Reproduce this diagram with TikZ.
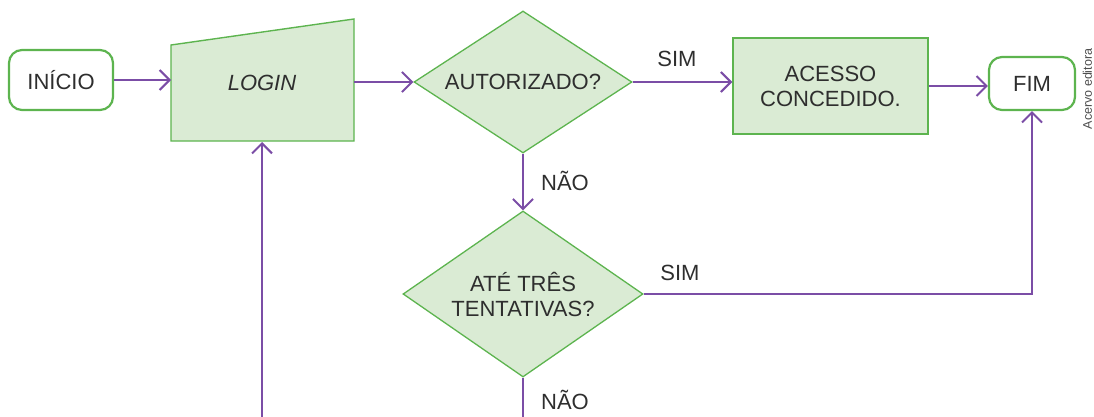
\documentclass[tikz,border=0pt]{standalone}
\usepackage{fontspec}
\setmainfont{Liberation Sans}
\usetikzlibrary{shapes.geometric,arrows.meta}
\definecolor{gline}{HTML}{5DB44F}
\definecolor{gfill}{HTML}{DAEBD4}
\definecolor{purp}{HTML}{7B4DA6}
\definecolor{txt}{HTML}{2E2E2E}
\begin{document}
\begin{tikzpicture}[x=1pt,y=-1pt,
  basefont/.style={font=\fontsize{22}{25}\selectfont, text=txt},
  term/.style={basefont, draw=gline, line width=2.2pt, rounded corners=13pt, fill=white, inner sep=0pt},
  proc/.style={basefont, draw=gline, line width=1.4pt, fill=gfill, inner sep=0pt, align=center},
  dec/.style={basefont, diamond, draw=gline, line width=1.3pt, fill=gfill, inner sep=0pt, align=center},
  link/.style={draw=purp, line width=2pt},
  conn/.style={link, -{Straight Barb[length=10pt,width=20pt]}},
  lbl/.style={basefont, inner sep=0pt}
]
\useasboundingbox (0,0) rectangle (1094,417);

% nodes
\node[term, minimum width=104pt, minimum height=60pt] (inicio) at (61,80) {INÍCIO};
\draw[draw=gline, line width=1.4pt, fill=gfill] (171,45) -- (354,19) -- (354,141) -- (171,141) -- cycle;
\node[basefont, font=\fontsize{22}{25}\selectfont\itshape] (login) at (262,83) {LOGIN};
\coordinate (loginW) at (171,80);
\coordinate (loginE) at (354,82);
\coordinate (loginS) at (262,142);

\node[dec, aspect=1.535, minimum width=218pt, minimum height=142pt] (aut) at (523,82) {AUTORIZADO?};
\node[proc, minimum width=195pt, minimum height=96pt] (acesso) at (830.5,86) {ACESSO\\CONCEDIDO.};
\node[term, minimum width=86pt, minimum height=53pt] (fim) at (1032,83.5) {FIM};
\node[dec, aspect=1.446, minimum width=240pt, minimum height=166pt, text depth=0pt] (tent) at (523,294) {ATÉ TRÊS\\TENTATIVAS?};

\node[rotate=90, font=\fontsize{12.5}{14}\selectfont, text=txt!85, inner sep=0pt] (credit) at (1087.5,89) {Acervo editora};

\coordinate (bot1) at (523,420);
\coordinate (bot2) at (262,420);

% connectors
\draw[conn] (inicio.east) -- (loginW);
\draw[conn] (loginE) -- (aut.west);
\draw[conn] (aut.east) -- (aut.east -| acesso.west);
\draw[conn] (acesso.east) -- (acesso.east -| fim.west);
\draw[conn] (aut.south) -- (tent.north);
\draw[conn] (tent.east) -| (fim.south);
\draw[link] (tent.south) -- (bot1);
\draw[conn] (bot2) -- (loginS);

% labels
\node[lbl] (sim1) at (677,59) {SIM};
\node[lbl] (nao1) at (565,181) {NÃO};
\node[lbl] (sim2) at (680,273) {SIM};
\node[lbl] (nao2) at (565,400) {NÃO};
\end{tikzpicture}
\end{document}
